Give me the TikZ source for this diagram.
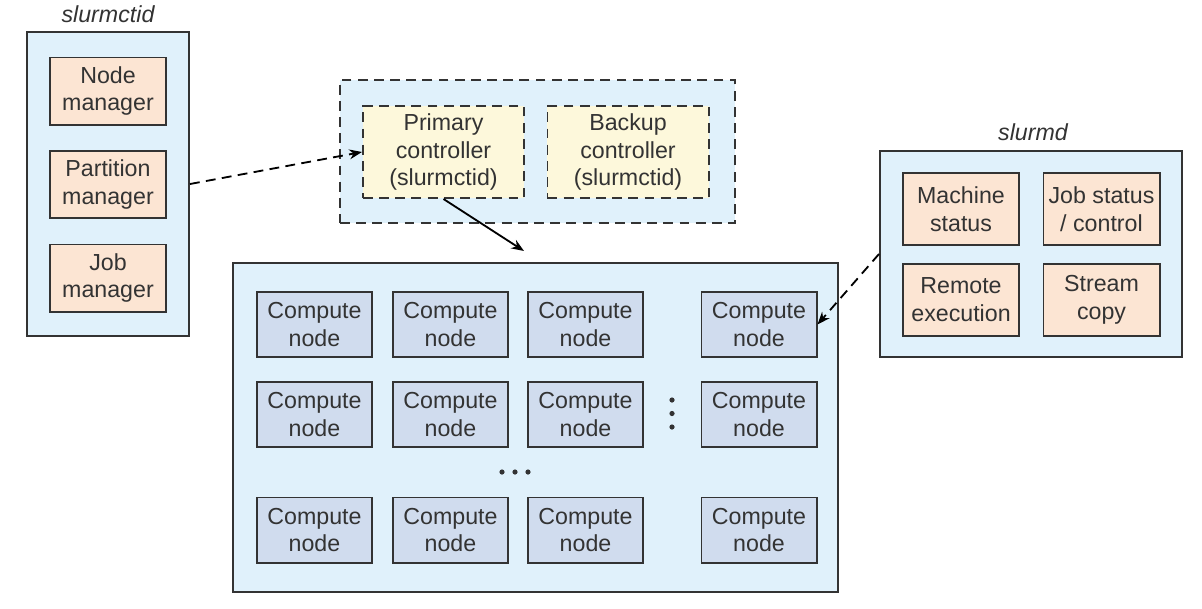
\documentclass[tikz,border=0pt]{standalone}
\usepackage{fontspec}
\setmainfont{Liberation Sans}
\usetikzlibrary{arrows.meta,positioning}
\definecolor{paleblue}{HTML}{E0F1FB}
\definecolor{peach}{HTML}{FCE5D3}
\definecolor{cream}{HTML}{FDF8DB}
\definecolor{nodeblue}{HTML}{D0DCEE}
\definecolor{ink}{HTML}{333333}
\tikzset{
  every picture/.style={font=\fontsize{16.5}{19.8}\selectfont},
  frame/.style={draw=ink,line width=1.4pt,fill=paleblue,inner sep=0pt},
  part/.style={draw=ink,line width=1.4pt,fill=peach,align=center,
    minimum width=2.9cm,inner sep=0pt,text=ink},
  ctl/.style={draw=ink,line width=1.4pt,fill=cream,align=center,
    minimum width=4.025cm,minimum height=2.3cm,inner sep=0pt,text=ink,dashes},
  cnode/.style={draw=ink,line width=1.4pt,fill=nodeblue,align=center,
    minimum width=2.875cm,minimum height=1.625cm,inner sep=0pt,text=ink},
  dashes/.style={dash pattern=on 7pt off 4.5pt},
  tag/.style={font=\fontsize{16.5}{19.8}\selectfont\itshape,text=ink},
  link/.style={draw=black,line width=1.3pt,-{Stealth[length=9pt,width=7pt]}},
}

\begin{document}
\begin{tikzpicture}[x=0.025cm,y=-0.025cm]
  \useasboundingbox[fill=white] (0,0) rectangle (1202,608);
  % slurmctid daemon
  \node[frame,minimum width=4.05cm,minimum height=7.6cm] (ctld) at (108,184) {};
  \node[tag] (ctldtag) at (108,14) {slurmctid};
  \node[part,minimum height=1.675cm] (nodemgr) at (108,91) {Node\\manager};
  \node[part,minimum height=1.675cm] (partmgr) at (108,184.5) {Partition\\manager};
  \node[part,minimum height=1.675cm] (jobmgr) at (108,278) {Job\\manager};
  % controllers
  \node[frame,dashes,minimum width=9.875cm,minimum height=3.575cm] (ctls) at (537.5,151.5) {};
  \node[ctl] (primary) at (443.5,152) {Primary\\controller\\(slurmctid)};
  \node[ctl] (backup) at (628,152) {Backup\\controller\\(slurmctid)};
  % cluster of compute nodes
  \node[frame,minimum width=15.125cm,minimum height=8.225cm] (cluster) at (535.5,427.5) {};
  \foreach \x/\c in {314.5/1,450.5/2,585.5/3,759/4}
    \foreach \y/\r in {324.5/1,414.5/2,530/3}
      \node[cnode] (c\r\c) at (\x,\y) {Compute\\node};
  \foreach \y in {400,413.5,427}
    \fill[ink] (672,\y) circle (2.6);
  \foreach \x in {502,515,528}
    \fill[ink] (\x,472) circle (2.6);
  % slurmd daemon
  \node[frame,minimum width=7.55cm,minimum height=5.15cm] (slurmd) at (1031,254) {};
  \node[tag] (slurmdtag) at (1033,132) {slurmd};
  \node[part,minimum height=1.8cm] (machine) at (961,209) {Machine\\status};
  \node[part,minimum height=1.8cm] (jobstat) at (1101.5,209) {Job status\\/ control};
  \node[part,minimum height=1.8cm] (remote) at (961,300) {Remote\\execution};
  \node[part,minimum height=1.8cm] (stream) at (1101.5,300) {Stream\\copy};
  % connectors
  \coordinate (drop) at (524,251);
  \draw[link,dashes] (ctld.east) -- (primary.west);
  \draw[link] (primary.south) -- (drop);
  \draw[link,dashes] (slurmd.west) -- (c14.east);
\end{tikzpicture}
\end{document}
